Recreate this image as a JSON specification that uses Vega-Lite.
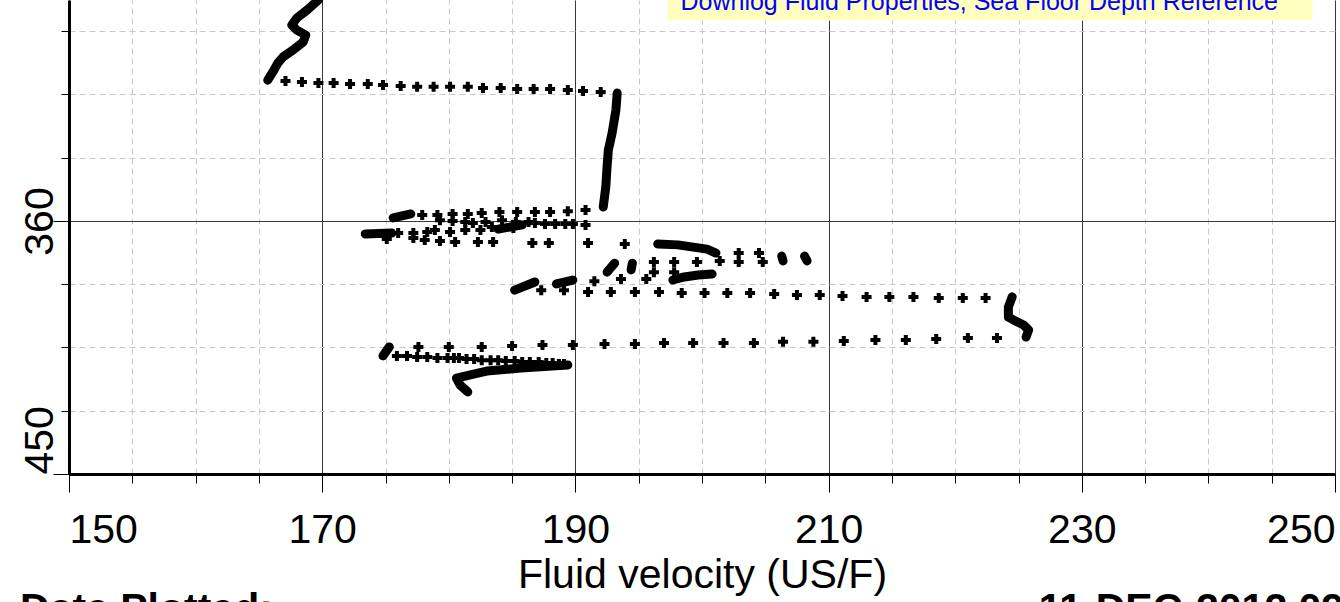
{
  "$schema": "https://vega.github.io/schema/vega-lite/v6.json",
  "width": 1266,
  "height": 474,
  "autosize": {"type": "none"},
  "padding": {"left": 69, "top": 0, "right": 5, "bottom": 128},
  "background": "white",
  "config": {"view": {"stroke": null}},
  "datasets": {
    "crosses": [
      {"x": 167.1, "y": 310.2}, {"x": 168.4, "y": 310.6}, {"x": 169.7, "y": 310.9}, {"x": 170.9, "y": 310.9},
      {"x": 172.2, "y": 311.3}, {"x": 173.6, "y": 311.3}, {"x": 174.8, "y": 311.6}, {"x": 176.2, "y": 312.0},
      {"x": 177.5, "y": 312.3}, {"x": 178.8, "y": 312.3}, {"x": 180.1, "y": 312.3}, {"x": 181.5, "y": 312.3},
      {"x": 182.7, "y": 312.7}, {"x": 184.1, "y": 312.7}, {"x": 185.4, "y": 313.1}, {"x": 186.7, "y": 313.1},
      {"x": 188.0, "y": 313.1}, {"x": 189.4, "y": 313.4}, {"x": 190.6, "y": 313.8}, {"x": 192.0, "y": 314.1},
      {"x": 190.8, "y": 356.1}, {"x": 189.4, "y": 356.5}, {"x": 188.0, "y": 356.8}, {"x": 186.8, "y": 356.8},
      {"x": 185.4, "y": 356.8}, {"x": 184.0, "y": 356.8}, {"x": 182.6, "y": 357.2}, {"x": 181.5, "y": 357.5},
      {"x": 180.3, "y": 357.5}, {"x": 179.1, "y": 357.9}, {"x": 177.9, "y": 357.9},
      {"x": 179.3, "y": 359.7}, {"x": 180.3, "y": 360.0}, {"x": 181.3, "y": 360.4}, {"x": 181.9, "y": 360.7},
      {"x": 182.9, "y": 360.4}, {"x": 184.2, "y": 359.7}, {"x": 185.3, "y": 360.4}, {"x": 186.3, "y": 360.4},
      {"x": 186.8, "y": 360.7}, {"x": 187.6, "y": 361.1}, {"x": 188.4, "y": 361.1}, {"x": 189.2, "y": 361.1},
      {"x": 189.8, "y": 361.1}, {"x": 190.8, "y": 361.4},
      {"x": 176.0, "y": 364.3}, {"x": 177.2, "y": 364.3}, {"x": 178.3, "y": 363.9}, {"x": 178.9, "y": 363.2},
      {"x": 180.1, "y": 363.9}, {"x": 181.3, "y": 363.2}, {"x": 182.5, "y": 363.2}, {"x": 183.4, "y": 362.1},
      {"x": 185.1, "y": 362.5},
      {"x": 175.1, "y": 366.4}, {"x": 177.2, "y": 366.1}, {"x": 178.1, "y": 366.8}, {"x": 179.3, "y": 367.1},
      {"x": 180.5, "y": 367.5}, {"x": 182.3, "y": 367.5}, {"x": 183.5, "y": 367.5}, {"x": 186.6, "y": 367.8},
      {"x": 187.9, "y": 367.8}, {"x": 191.0, "y": 367.8}, {"x": 193.9, "y": 368.2},
      {"x": 202.9, "y": 371.4}, {"x": 202.9, "y": 374.6}, {"x": 204.5, "y": 371.4}, {"x": 204.8, "y": 374.6},
      {"x": 196.2, "y": 374.6}, {"x": 196.2, "y": 378.2}, {"x": 197.8, "y": 374.6}, {"x": 197.8, "y": 378.2},
      {"x": 199.6, "y": 374.6}, {"x": 201.4, "y": 374.2}, {"x": 195.6, "y": 380.6}, {"x": 193.6, "y": 380.6},
      {"x": 191.5, "y": 381.4}, {"x": 187.3, "y": 384.6}, {"x": 189.1, "y": 384.6},
      {"x": 191.0, "y": 385.3}, {"x": 192.8, "y": 385.3}, {"x": 194.7, "y": 385.3}, {"x": 196.6, "y": 385.3},
      {"x": 198.4, "y": 385.6}, {"x": 200.2, "y": 385.6}, {"x": 202.0, "y": 385.6}, {"x": 203.8, "y": 385.6},
      {"x": 205.7, "y": 386.0}, {"x": 207.5, "y": 386.3}, {"x": 209.3, "y": 386.3}, {"x": 211.1, "y": 386.7},
      {"x": 213.0, "y": 387.0}, {"x": 214.8, "y": 387.0}, {"x": 216.7, "y": 387.0}, {"x": 218.7, "y": 387.4},
      {"x": 220.6, "y": 387.4}, {"x": 222.4, "y": 387.4},
      {"x": 223.3, "y": 401.6}, {"x": 221.0, "y": 401.6}, {"x": 218.5, "y": 402.0}, {"x": 216.1, "y": 402.3},
      {"x": 213.7, "y": 402.3}, {"x": 211.2, "y": 402.7}, {"x": 208.8, "y": 403.0}, {"x": 206.4, "y": 403.0},
      {"x": 204.1, "y": 403.4}, {"x": 201.7, "y": 403.4}, {"x": 199.3, "y": 403.4}, {"x": 197.0, "y": 403.4},
      {"x": 194.7, "y": 403.8}, {"x": 192.3, "y": 403.8}, {"x": 189.8, "y": 404.1}, {"x": 187.4, "y": 404.1},
      {"x": 185.0, "y": 404.5}, {"x": 182.6, "y": 404.8}, {"x": 180.0, "y": 404.8}, {"x": 177.6, "y": 404.8},
      {"x": 175.9, "y": 408.0}, {"x": 176.7, "y": 408.0}, {"x": 177.5, "y": 408.4}, {"x": 178.3, "y": 408.4},
      {"x": 179.1, "y": 408.7}, {"x": 179.9, "y": 408.7}, {"x": 180.4, "y": 408.7}, {"x": 180.8, "y": 408.7},
      {"x": 181.4, "y": 409.1}, {"x": 182.0, "y": 409.1}, {"x": 182.6, "y": 409.5}, {"x": 183.3, "y": 409.5},
      {"x": 183.9, "y": 409.5}, {"x": 184.5, "y": 409.8}, {"x": 185.2, "y": 409.8}, {"x": 185.8, "y": 410.2},
      {"x": 186.4, "y": 410.2}, {"x": 187.1, "y": 410.2}, {"x": 187.7, "y": 410.5}, {"x": 188.2, "y": 410.5},
      {"x": 188.7, "y": 410.9}, {"x": 189.1, "y": 410.9}
    ],
    "thick": [
      {"s": "A", "o": 1, "x": 169.8, "y": 280.3}, {"s": "A", "o": 2, "x": 169.7, "y": 281.4},
      {"s": "A", "o": 3, "x": 168.8, "y": 285.0}, {"s": "A", "o": 4, "x": 168.0, "y": 287.8},
      {"s": "A", "o": 5, "x": 167.6, "y": 290.3}, {"s": "A", "o": 6, "x": 168.0, "y": 292.1},
      {"s": "A", "o": 7, "x": 168.7, "y": 293.9}, {"s": "A", "o": 8, "x": 168.5, "y": 296.3},
      {"s": "A", "o": 9, "x": 167.7, "y": 299.2}, {"s": "A", "o": 10, "x": 166.9, "y": 301.7},
      {"s": "A", "o": 11, "x": 166.5, "y": 303.8}, {"s": "A", "o": 12, "x": 166.1, "y": 307.0},
      {"s": "A", "o": 13, "x": 165.7, "y": 309.9},
      {"s": "B", "o": 1, "x": 193.3, "y": 314.5}, {"s": "B", "o": 2, "x": 193.2, "y": 320.5},
      {"s": "B", "o": 3, "x": 192.9, "y": 328.7}, {"s": "B", "o": 4, "x": 192.6, "y": 334.8},
      {"s": "B", "o": 5, "x": 192.5, "y": 340.8}, {"s": "B", "o": 6, "x": 192.4, "y": 347.9},
      {"s": "B", "o": 7, "x": 192.2, "y": 355.0},
      {"s": "b1", "o": 1, "x": 175.6, "y": 358.9}, {"s": "b1", "o": 2, "x": 177.0, "y": 357.5},
      {"s": "b2", "o": 1, "x": 183.9, "y": 362.9}, {"s": "b2", "o": 2, "x": 185.8, "y": 361.4},
      {"s": "b3", "o": 1, "x": 173.4, "y": 364.6}, {"s": "b3", "o": 2, "x": 175.5, "y": 364.3},
      {"s": "D", "o": 1, "x": 196.5, "y": 368.2}, {"s": "D", "o": 2, "x": 198.1, "y": 368.5},
      {"s": "D", "o": 3, "x": 199.3, "y": 369.3}, {"s": "D", "o": 4, "x": 200.4, "y": 370.0},
      {"s": "D", "o": 5, "x": 201.1, "y": 371.4},
      {"s": "b4", "o": 1, "x": 206.3, "y": 372.5}, {"s": "b4", "o": 2, "x": 206.4, "y": 374.2},
      {"s": "b5", "o": 1, "x": 208.1, "y": 372.5}, {"s": "b5", "o": 2, "x": 208.3, "y": 374.2},
      {"s": "b6", "o": 1, "x": 192.5, "y": 378.2}, {"s": "b6", "o": 2, "x": 193.1, "y": 375.0},
      {"s": "b7", "o": 1, "x": 194.5, "y": 375.0}, {"s": "b7", "o": 2, "x": 194.4, "y": 377.4},
      {"s": "E", "o": 1, "x": 197.7, "y": 381.0}, {"s": "E", "o": 2, "x": 198.6, "y": 379.9},
      {"s": "E", "o": 3, "x": 199.7, "y": 379.2}, {"s": "E", "o": 4, "x": 200.8, "y": 378.9},
      {"s": "F", "o": 1, "x": 185.2, "y": 384.6}, {"s": "F", "o": 2, "x": 186.8, "y": 381.7},
      {"s": "G", "o": 1, "x": 188.5, "y": 382.4}, {"s": "G", "o": 2, "x": 189.8, "y": 381.0},
      {"s": "C", "o": 1, "x": 224.5, "y": 387.0}, {"s": "C", "o": 2, "x": 224.2, "y": 390.6},
      {"s": "C", "o": 3, "x": 224.2, "y": 394.2}, {"s": "C", "o": 4, "x": 224.6, "y": 395.2},
      {"s": "C", "o": 5, "x": 225.4, "y": 397.0}, {"s": "C", "o": 6, "x": 225.8, "y": 398.8},
      {"s": "C", "o": 7, "x": 225.6, "y": 401.3},
      {"s": "H", "o": 1, "x": 174.8, "y": 408.0}, {"s": "H", "o": 2, "x": 175.3, "y": 404.8},
      {"s": "I", "o": 1, "x": 189.4, "y": 411.2}, {"s": "I", "o": 2, "x": 185.7, "y": 412.3},
      {"s": "I", "o": 3, "x": 183.0, "y": 413.4}, {"s": "I", "o": 4, "x": 182.3, "y": 414.1},
      {"s": "I", "o": 5, "x": 180.6, "y": 415.9}, {"s": "I", "o": 6, "x": 180.9, "y": 418.4},
      {"s": "I", "o": 7, "x": 181.5, "y": 420.8}
    ],
    "notes": [
      {"label": "Downlog Fluid Properties, Sea Floor Depth Reference"}
    ],
    "footLeft": [
      {"label": "Date Plotted:"}
    ],
    "footRight": [
      {"label": "11-DEC-2012 09:30"}
    ]
  },
  "layer": [
    {
      "data": {"name": "crosses"},
      "mark": {"type": "point", "shape": "cross", "filled": true, "color": "black", "size": 100, "opacity": 1},
      "encoding": {
        "x": {
          "field": "x", "type": "quantitative",
          "scale": {"domain": [150, 250], "nice": false, "zero": false},
          "axis": {
            "values": [150,155,160,165,170,175,180,185,190,195,200,205,210,215,220,225,230,235,240,245,250],
            "title": "Fluid velocity (US/F)",
            "titleFont": "Liberation Sans", "titleFontSize": 41, "titleFontWeight": "normal", "titleColor": "black", "titlePadding": 5,
            "labelExpr": "datum.value % 20 == 10 ? datum.label : ''",
            "labelFont": "Liberation Sans", "labelFontSize": 41, "labelColor": "black", "labelPadding": 18,
            "labelFlush": true, "labelOverlap": false,
            "tickSize": {"condition": {"test": "datum.value % 20 == 10", "value": 18}, "value": 9},
            "tickColor": "black", "tickWidth": 1,
            "domainColor": "black", "domainWidth": 3,
            "grid": true,
            "gridColor": {"condition": {"test": "datum.value % 20 == 10", "value": "#3a3a3a"}, "value": "#c8c8c8"},
            "gridDash": {"condition": {"test": "datum.value % 20 == 10", "value": []}, "value": [6, 4]},
            "gridWidth": 1
          }
        },
        "y": {
          "field": "y", "type": "quantitative",
          "scale": {"domain": [281.4, 450], "nice": false, "zero": false, "reverse": true},
          "axis": {
            "values": [270, 292.5, 315, 337.5, 360, 382.5, 405, 427.5, 450],
            "title": null,
            "labelExpr": "datum.value % 90 == 0 ? datum.label : ''",
            "labelAngle": -90,
            "labelAlign": {"condition": {"test": "datum.value == 450", "value": "left"}, "value": "center"},
            "labelBaseline": "alphabetic",
            "labelFont": "Liberation Sans", "labelFontSize": 41, "labelColor": "black", "labelPadding": 1,
            "labelOverlap": false,
            "tickSize": {"condition": {"test": "datum.value % 90 == 0", "value": 16}, "value": 8},
            "tickColor": "black", "tickWidth": 1,
            "domainColor": "black", "domainWidth": 3,
            "grid": true,
            "gridColor": {"condition": {"test": "datum.value % 90 == 0", "value": "#3a3a3a"}, "value": "#c8c8c8"},
            "gridDash": {"condition": {"test": "datum.value % 90 == 0", "value": []}, "value": [6, 4]},
            "gridWidth": 1
          }
        }
      }
    },
    {
      "data": {"name": "thick"},
      "mark": {"type": "line", "color": "black", "strokeWidth": 9, "strokeCap": "round", "strokeJoin": "round", "clip": true},
      "encoding": {
        "x": {"field": "x", "type": "quantitative"},
        "y": {"field": "y", "type": "quantitative"},
        "detail": {"field": "s", "type": "nominal"},
        "order": {"field": "o", "type": "quantitative"}
      }
    },
    {
      "data": {"name": "notes"},
      "mark": {"type": "rect", "color": "#ffffbf"},
      "encoding": {
        "x": {"datum": 197.27},
        "x2": {"datum": 248.23},
        "y": {"datum": 268},
        "y2": {"datum": 288.7}
      }
    },
    {
      "data": {"name": "notes"},
      "mark": {"type": "text", "font": "Liberation Sans", "fontSize": 25, "color": "#0000ff", "align": "center", "baseline": "alphabetic"},
      "encoding": {
        "x": {"datum": 221.9},
        "y": {"datum": 284.8},
        "text": {"field": "label", "type": "nominal"}
      }
    },
    {
      "data": {"name": "footLeft"},
      "mark": {"type": "text", "font": "Liberation Sans", "fontSize": 41, "fontWeight": "bold", "color": "black", "align": "left", "baseline": "alphabetic"},
      "encoding": {
        "x": {"datum": 146.13},
        "y": {"datum": 502.8},
        "text": {"field": "label", "type": "nominal"}
      }
    },
    {
      "data": {"name": "footRight"},
      "mark": {"type": "text", "font": "Liberation Sans", "fontSize": 41, "fontWeight": "bold", "color": "black", "align": "left", "baseline": "alphabetic"},
      "encoding": {
        "x": {"datum": 226.6},
        "y": {"datum": 502.8},
        "text": {"field": "label", "type": "nominal"}
      }
    }
  ]
}
